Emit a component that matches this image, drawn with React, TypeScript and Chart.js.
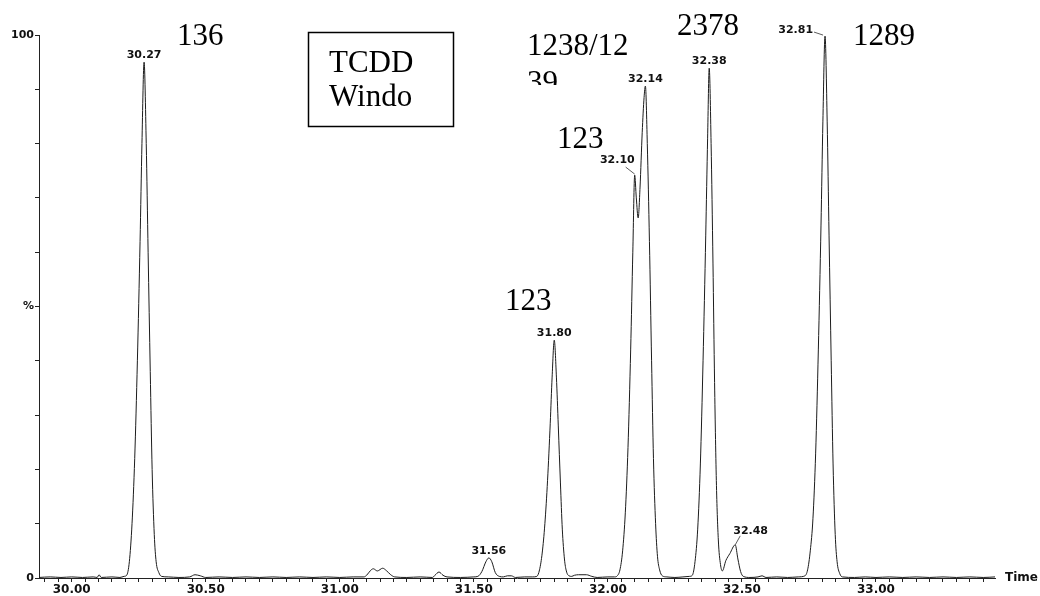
import React, { useEffect, useRef } from "react";
import { Chart, registerables } from "chart.js";

Chart.register(...registerables);

// ---- Data (retention time in minutes, relative intensity in %) ----
const times = [
  29.878, 29.92, 29.96, 30.0, 30.04, 30.08, 30.095, 30.102, 30.11, 30.15, 30.18, 30.195,
  30.205, 30.215, 30.225, 30.235, 30.245, 30.255, 30.262, 30.27, 30.278, 30.285, 30.293, 30.3,
  30.308, 30.315, 30.325, 30.335, 30.36, 30.4, 30.44, 30.46, 30.48, 30.5, 30.55, 30.6,
  30.65, 30.7, 30.75, 30.8, 30.85, 30.9, 30.95, 31.0, 31.05, 31.09, 31.1, 31.115,
  31.125, 31.14, 31.16, 31.175, 31.19, 31.205, 31.25, 31.3, 31.345, 31.355, 31.37, 31.385,
  31.4, 31.45, 31.5, 31.515, 31.53, 31.545, 31.556, 31.567, 31.58, 31.595, 31.61, 31.625,
  31.64, 31.655, 31.69, 31.72, 31.735, 31.745, 31.755, 31.765, 31.775, 31.785, 31.792, 31.8,
  31.808, 31.815, 31.823, 31.83, 31.838, 31.845, 31.855, 31.865, 31.875, 31.89, 31.92, 31.94,
  31.96, 32.0, 32.025, 32.035, 32.045, 32.055, 32.065, 32.075, 32.085, 32.093, 32.1, 32.106,
  32.113, 32.12, 32.128, 32.135, 32.14, 32.147, 32.155, 32.163, 32.17, 32.178, 32.185, 32.193,
  32.203, 32.22, 32.25, 32.28, 32.305, 32.315, 32.325, 32.335, 32.345, 32.355, 32.365, 32.372,
  32.378, 32.385, 32.392, 32.398, 32.405, 32.412, 32.42, 32.427, 32.44, 32.455, 32.475, 32.485,
  32.495, 32.505, 32.53, 32.56, 32.575, 32.59, 32.63, 32.67, 32.71, 32.735, 32.745, 32.755,
  32.765, 32.775, 32.785, 32.795, 32.802, 32.81, 32.818, 32.825, 32.833, 32.84, 32.848, 32.855,
  32.865, 32.875, 32.92, 32.96, 33.0, 33.05, 33.1, 33.15, 33.2, 33.25, 33.3, 33.35,
  33.4, 33.444,
];

const intensity = [
  0.1, 0.2, 0.1, 0.2, 0.1, 0.2, 0.1, 0.6, 0.1, 0.2, 0.1, 0.3,
  0.5, 3, 10, 22, 40, 62, 80, 95, 80, 60, 38, 20,
  8, 3, 1, 0.3, 0.2, 0.1, 0.2, 0.6, 0.4, 0.1, 0.2, 0.1,
  0.2, 0.1, 0.2, 0.1, 0.2, 0.1, 0.2, 0.1, 0.2, 0.2, 0.5, 1.4,
  1.7, 1.3, 1.8, 1.3, 0.6, 0.2, 0.1, 0.2, 0.1, 0.5, 1.1, 0.5,
  0.2, 0.1, 0.2, 0.3, 1.2, 3.0, 3.7, 3.0, 1.0, 0.3, 0.2, 0.4,
  0.4, 0.1, 0.2, 0.2, 0.3, 1.5, 4.6, 10, 18, 28.5, 37, 43.8,
  37, 28, 17.5, 9, 3.5, 1.3, 0.4, 0.3, 0.5, 0.6, 0.6, 0.3,
  0.1, 0.2, 0.2, 0.4, 1.5, 5, 12, 24, 42, 60, 74.2, 70,
  66.3, 72, 82, 88.5, 90.6, 80, 62, 40, 22, 10, 4, 1.5,
  0.4, 0.2, 0.1, 0.2, 0.3, 0.5, 3, 9, 21, 40, 63, 81,
  93.9, 80, 58, 36, 17, 7, 2.5, 1.3, 3.2, 4.5, 6.1, 3.5,
  1.2, 0.3, 0.1, 0.2, 0.4, 0.1, 0.2, 0.1, 0.2, 0.4, 1.5, 5,
  11, 23, 42, 65, 84, 99.8, 84, 63, 40, 21, 8, 3,
  0.8, 0.2, 0.1, 0.2, 0.1, 0.2, 0.1, 0.2, 0.1, 0.2, 0.1, 0.2,
  0.1, 0.2,
];

// Peak apex labels
const peakLabels = ["30.27", "31.56", "31.80", "32.10", "32.14", "32.38", "32.48", "32.81"];
const peakTimes = [30.27, 31.556, 31.8, 32.1, 32.14, 32.378, 32.475, 32.81];
const peakHeights = [95, 3.7, 43.8, 74.2, 90.6, 93.9, 6.1, 99.8];
const peakLabelMode = ["above", "above", "above", "left", "above", "above", "right", "leftFar"];

// Axis
const X_MIN = 29.878;
const X_MAX = 33.444;
const xLabelStep = 0.5;
const yTickText: Record<number, string> = { 0: "0", 50: "%", 100: "100" };
const xAxisTitle = "Time";

// Compound annotations (hand-written overlay)
const compoundTexts = ["136", "1238/12", "39", "2378", "1289", "123", "123"];
const compoundPos = [
  [177, 45], [527, 55], [527, 92], [677, 35], [853, 45], [557, 148], [505, 310],
];
const boxLines = ["TCDD", "Windo"];

const annotate = {
  id: "annotate",
  afterDraw(chart: any) {
    const ctx: CanvasRenderingContext2D = chart.ctx;
    const xs = chart.scales.x;
    const ys = chart.scales.y;
    ctx.save();
    // peak labels
    ctx.fillStyle = "#111";
    ctx.strokeStyle = "#333";
    ctx.lineWidth = 0.8;
    ctx.font = 'bold 11px "DejaVu Sans"';
    ctx.textBaseline = "alphabetic";
    peakLabels.forEach((t, i) => {
      const px = xs.getPixelForValue(peakTimes[i]);
      const py = ys.getPixelForValue(peakHeights[i]);
      const mode = peakLabelMode[i];
      if (mode === "above") {
        ctx.textAlign = "center";
        ctx.fillText(t, px, py - 4);
      } else if (mode === "left") {
        ctx.textAlign = "right";
        ctx.fillText(t, px, py - 12);
        ctx.beginPath();
        ctx.moveTo(px - 9, py - 8);
        ctx.lineTo(px, py - 1);
        ctx.stroke();
      } else if (mode === "leftFar") {
        ctx.textAlign = "right";
        ctx.fillText(t, px - 12, py - 3);
        ctx.beginPath();
        ctx.moveTo(px - 11, py - 4);
        ctx.lineTo(px - 2, py - 1);
        ctx.stroke();
      } else {
        ctx.textAlign = "left";
        ctx.fillText(t, px - 2, py - 11);
        ctx.beginPath();
        ctx.moveTo(px + 5, py - 9);
        ctx.lineTo(px, py);
        ctx.stroke();
      }
    });

    // axis title
    ctx.font = 'bold 12px "DejaVu Sans"';
    ctx.textAlign = "left";
    ctx.textBaseline = "middle";
    ctx.fillText(xAxisTitle, xs.right + 10, ys.bottom);

    // compound labels
    ctx.fillStyle = "#000";
    ctx.font = '31px "Liberation Serif"';
    ctx.textAlign = "left";
    ctx.textBaseline = "alphabetic";
    compoundTexts.forEach((t, i) => {
      const [x, y] = compoundPos[i];
      if (t === "39") {
        ctx.save();
        ctx.beginPath();
        ctx.rect(x - 5, y - 30, 60, 23);
        ctx.clip();
        ctx.fillText(t, x, y);
        ctx.restore();
      } else {
        ctx.fillText(t, x, y);
      }
    });

    // box
    ctx.strokeStyle = "#000";
    ctx.lineWidth = 1.5;
    ctx.strokeRect(308.5, 32.5, 145, 94);
    ctx.fillText(boxLines[0], 329, 72);
    ctx.fillText(boxLines[1], 329, 106);
    ctx.restore();
  },
};

export default function App() {
  const ref = useRef<HTMLCanvasElement>(null);
  useEffect(() => {
    if (!ref.current) return;
    const chart = new Chart(ref.current, {
      type: "line",
      data: {
        datasets: [
          {
            data: times.map((t, i) => ({ x: t, y: intensity[i] })),
            borderColor: "#1c1c1c",
            borderWidth: 1,
            pointRadius: 0,
            cubicInterpolationMode: "monotone",
            fill: false,
          },
        ],
      },
      options: {
        animation: false,
        responsive: false,
        devicePixelRatio: 1,
        layout: { padding: { left: 0, top: 35, right: 45, bottom: 0 } },
        plugins: { legend: { display: false }, tooltip: { enabled: false } },
        scales: {
          x: {
            type: "linear",
            min: X_MIN,
            max: X_MAX,
            afterFit: (s: any) => {
              s.height = 18;
            },
            grid: { drawOnChartArea: false, drawTicks: true, tickLength: 4, color: "#222" },
            border: { color: "#222", width: 1 },
            ticks: {
              stepSize: 0.05,
              includeBounds: false,
              autoSkip: false,
              maxRotation: 0,
              minRotation: 0,
              padding: 1,
              color: "#111",
              font: { family: '"DejaVu Sans"', size: 12, weight: "bold" },
              callback: (v: any) => {
                const n = Number(v);
                const r = n / xLabelStep;
                return Math.abs(r - Math.round(r)) < 1e-6 ? n.toFixed(2) : "";
              },
            },
          },
          y: {
            type: "linear",
            min: 0,
            max: 100,
            afterFit: (s: any) => {
              s.width = 39;
            },
            grid: { drawOnChartArea: false, drawTicks: true, tickLength: 4, color: "#222" },
            border: { color: "#222", width: 1 },
            ticks: {
              stepSize: 10,
              autoSkip: false,
              padding: 1,
              color: "#111",
              font: { family: '"DejaVu Sans"', size: 11, weight: "bold" },
              callback: (v: any) => yTickText[Number(v)] ?? "",
            },
          },
        },
      },
      plugins: [annotate],
    } as any);
    return () => chart.destroy();
  }, []);

  return (
    <div style={{ position: "fixed", left: 0, top: 0, width: 1040, height: 596, background: "#fff" }}>
      <canvas ref={ref} width={1040} height={596} style={{ display: "block", width: 1040, height: 596 }} />
    </div>
  );
}
